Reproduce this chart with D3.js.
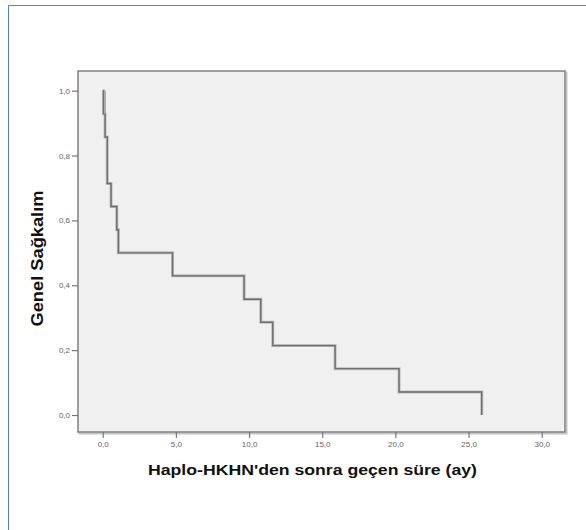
<!DOCTYPE html>
<html>
<head>
<meta charset="utf-8">
<script src="https://cdn.jsdelivr.net/npm/d3@7"></script>
<style>
  body { margin: 0; background: #fff; }
  svg { display: block; }
</style>
</head>
<body>
<svg id="chart"></svg>
<script>
// Kaplan-Meier steps: event times (months) and survival after each event
var eventTimes = [0.05, 0.16, 0.31, 0.57, 0.96, 1.07, 4.77, 9.66, 10.8, 11.62, 15.88, 20.25, 25.9];
var survival = [0.929, 0.857, 0.714, 0.643, 0.571, 0.5, 0.429, 0.357, 0.286, 0.214, 0.143, 0.071, 0.0];
var xTicks = [0, 5, 10, 15, 20, 25, 30];
var yTicks = [0, 0.2, 0.4, 0.6, 0.8, 1.0];

var width = 586, height = 530;
var plot = { left: 78, top: 71, right: 565, bottom: 432 };

var svg = d3.select("#chart")
    .attr("width", width)
    .attr("height", height);

// outer frame (only top and left visible)
svg.append("path")
    .attr("d", "M8.5," + height + "V5.5H" + width)
    .attr("fill", "none")
    .attr("stroke", "#4f87bb")
    .attr("stroke-width", 1);

var x = d3.scaleLinear().domain([-1.69, 31.59]).range([plot.left, plot.right]);
var y = d3.scaleLinear().domain([-0.0524, 1.0607]).range([plot.bottom, plot.top]);

var fmt = function(d) { return d3.format(".1f")(d).replace(".", ","); };

// plot background + soft shadow
svg.append("rect")
    .attr("x", plot.left + 1.5)
    .attr("y", plot.top + 1.5)
    .attr("width", plot.right - plot.left)
    .attr("height", plot.bottom - plot.top)
    .attr("fill", "none")
    .attr("stroke", "#c4c4c4")
    .attr("stroke-width", 2);
svg.append("rect")
    .attr("x", plot.left)
    .attr("y", plot.top)
    .attr("width", plot.right - plot.left)
    .attr("height", plot.bottom - plot.top)
    .attr("fill", "#f0f0f0")
    .attr("stroke", "#808080")
    .attr("stroke-width", 1.5);

// axes
var yAxis = d3.axisLeft(y).tickValues(yTicks).tickFormat(fmt).tickSize(6).tickPadding(2);
var xAxis = d3.axisBottom(x).tickValues(xTicks).tickFormat(fmt).tickSize(6).tickPadding(3);

var gy = svg.append("g")
    .attr("transform", "translate(" + plot.left + ",0)")
    .call(yAxis);
var gx = svg.append("g")
    .attr("transform", "translate(0," + plot.bottom + ")")
    .call(xAxis);

[gx, gy].forEach(function(g) {
    g.select(".domain").remove();
    g.selectAll(".tick line").attr("stroke", "#777").attr("stroke-width", 1.2);
    g.selectAll(".tick text")
        .attr("fill", "#666")
        .style("font-family", "Arial, 'Liberation Sans', sans-serif")
        .style("font-size", "8px");
});

// survival step curve
var pts = [[0, 1]];
var prev = 1;
eventTimes.forEach(function(t, i) {
    pts.push([t, prev]);
    pts.push([t, survival[i]]);
    prev = survival[i];
});

var line = d3.line()
    .x(function(d) { return x(d[0]); })
    .y(function(d) { return y(d[1]); });

// light halo for the blurred look
svg.append("path")
    .datum(pts)
    .attr("d", line)
    .attr("fill", "none")
    .attr("stroke", "#bdbdbd")
    .attr("stroke-width", 3);
svg.append("path")
    .datum(pts)
    .attr("d", line)
    .attr("fill", "none")
    .attr("stroke", "#6e6e6e")
    .attr("stroke-width", 1.4);

// initial thick drop segment
svg.append("line")
    .attr("x1", x(eventTimes[0]) + 1.5)
    .attr("x2", x(eventTimes[0]) + 1.5)
    .attr("y1", y(1))
    .attr("y2", y(survival[0]))
    .attr("stroke", "#aaa")
    .attr("stroke-width", 2);

// titles (glyphs look horizontally stretched in the source)
svg.append("text")
    .attr("x", 312.5)
    .attr("y", 475)
    .attr("text-anchor", "middle")
    .attr("textLength", 329)
    .attr("lengthAdjust", "spacingAndGlyphs")
    .style("font-family", "Arial, 'Liberation Sans', sans-serif")
    .style("font-weight", "bold")
    .style("font-size", "15.5px")
    .attr("fill", "#111")
    .text("Haplo-HKHN'den sonra geçen süre (ay)");

svg.append("text")
    .attr("transform", "translate(43,258.5) rotate(-90)")
    .attr("text-anchor", "middle")
    .attr("textLength", 136)
    .attr("lengthAdjust", "spacingAndGlyphs")
    .style("font-family", "Arial, 'Liberation Sans', sans-serif")
    .style("font-weight", "bold")
    .style("font-size", "16px")
    .attr("fill", "#111")
    .text("Genel Sağkalım");
</script>
</body>
</html>
